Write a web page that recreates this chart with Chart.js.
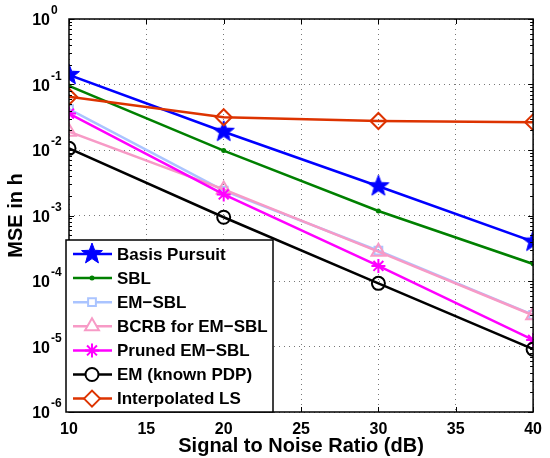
<!DOCTYPE html>
<html>
<head>
<meta charset="utf-8">
<script src="https://cdn.jsdelivr.net/npm/chart.js@4/dist/chart.umd.min.js"></script>
<style>
  html, body { margin: 0; padding: 0; background: #fff; }
  #wrap { width: 550px; height: 458px; }
</style>
</head>
<body>
<div id="wrap"><canvas id="mseChart" width="550" height="458"></canvas></div>
<script>
// SNR points (dB)
var snr = [10, 20, 30, 40];

// MSE values
var basisPursuit = [0.14, 0.019, 0.0028, 0.0004];
var sbl = [0.095, 0.0098, 0.00117, 0.000182];
var emSbl = [0.042, 0.0024, 0.00029, 0.0000305];
var bcrb = [0.019, 0.0025, 0.00028, 0.00003];
var prunedEmSbl = [0.036, 0.0021, 0.00017, 0.0000126];
var emKnownPdp = [0.0106, 0.00094, 0.000092, 0.0000091];
var interpLs = [0.065, 0.0316, 0.0277, 0.0265];

var xTicks = [10, 15, 20, 25, 30, 35, 40];
var yExponents = [-6, -5, -4, -3, -2, -1, 0];

// filled five point star, matlab 'p' marker
function makePentagram(r, color) {
  var c = document.createElement("canvas");
  c.width = c.height = r * 2 + 2;
  var g = c.getContext("2d");
  g.beginPath();
  for (var i = 0; i < 10; i++) {
    var rr = i % 2 == 0 ? r : r * 0.42;
    var a = -Math.PI / 2 + (i * Math.PI) / 5;
    g.lineTo(r + 1 + rr * Math.cos(a), r + 1 + rr * Math.sin(a));
  }
  g.closePath();
  g.fillStyle = color;
  g.fill();
  g.strokeStyle = color;
  g.lineWidth = 1;
  g.stroke();
  return c;
}
var starImg = makePentagram(11, "#0000ff");

function pts(arr) {
  return arr.map(function (v, i) {
    return { x: snr[i], y: v };
  });
}

var series = [
  { label: "Basis Pursuit", data: basisPursuit, color: "#0000ff", style: starImg, r: 10 },
  { label: "SBL", data: sbl, color: "#008000", style: "circle", r: 1.5, fill: true },
  { label: "EM\u2212SBL", data: emSbl, color: "#aac4ff", style: "rect", r: 5.5 },
  { label: "BCRB for EM\u2212SBL", data: bcrb, color: "#f79ac6", style: "triangle", r: 8 },
  { label: "Pruned EM\u2212SBL", data: prunedEmSbl, color: "#ff00ff", style: "star", r: 7 },
  { label: "EM (known PDP)", data: emKnownPdp, color: "#000000", style: "circle", r: 6.5 },
  { label: "Interpolated LS", data: interpLs, color: "#dd3300", style: "rectRot", r: 8 },
];

var datasets = series.map(function (s, i) {
  return {
    label: s.label,
    data: pts(s.data),
    borderColor: s.color,
    backgroundColor: s.fill ? s.color : "rgba(0,0,0,0)",
    borderWidth: 2.5,
    pointStyle: s.style,
    pointRadius: s.r,
    pointBorderWidth: 2,
    pointBorderColor: s.color,
    pointBackgroundColor: s.fill ? s.color : "rgba(0,0,0,0)",
    lineTension: 0,
    fill: false,
    order: series.length - i,
  };
});

var boldFont = "'Liberation Sans', Arial, sans-serif";

// axis ticks drawn inward, box, y labels with exponents, legend
var matlabLook = {
  id: "matlabLook",
  afterDraw: function (chart) {
    var ctx = chart.ctx;
    var area = chart.chartArea;
    var xs = chart.scales.x;
    var ys = chart.scales.y;
    ctx.save();
    ctx.strokeStyle = "#000";
    ctx.lineWidth = 1;

    // major x ticks
    xTicks.forEach(function (t) {
      var px = Math.round(xs.getPixelForValue(t)) + 0.5;
      ctx.beginPath();
      ctx.moveTo(px, area.bottom);
      ctx.lineTo(px, area.bottom - 5);
      ctx.moveTo(px, area.top);
      ctx.lineTo(px, area.top + 5);
      ctx.stroke();
    });

    // y ticks, major and minor
    yExponents.forEach(function (e) {
      for (var m = 1; m <= 9; m++) {
        var v = m * Math.pow(10, e);
        if (v > 1) break;
        var py = Math.round(ys.getPixelForValue(v)) + 0.5;
        var len = m == 1 ? 5 : 3;
        ctx.beginPath();
        ctx.moveTo(area.left, py);
        ctx.lineTo(area.left + len, py);
        ctx.moveTo(area.right, py);
        ctx.lineTo(area.right - len, py);
        ctx.stroke();
      }
    });

    // box
    ctx.lineWidth = 1.5;
    ctx.strokeRect(area.left, area.top, area.right - area.left, area.bottom - area.top);

    // y tick labels 10^n
    ctx.fillStyle = "#000";
    yExponents.forEach(function (e) {
      var py = ys.getPixelForValue(Math.pow(10, e));
      ctx.font = "bold 16px " + boldFont;
      ctx.textAlign = "right";
      ctx.textBaseline = "middle";
      ctx.fillText("10", 50, py + 2);
      ctx.font = "bold 12px " + boldFont;
      ctx.textAlign = "left";
      ctx.fillText(e == 0 ? "0" : "-" + Math.abs(e), 51, py - 8);
    });

    // legend
    var lx = 66, ly = 240, lw = 207, lh = 172;
    ctx.fillStyle = "#fff";
    ctx.fillRect(lx, ly, lw, lh);
    ctx.lineWidth = 1.5;
    ctx.strokeStyle = "#000";
    ctx.strokeRect(lx, ly, lw, lh);
    series.forEach(function (s, i) {
      var cy = 254 + i * 24.1;
      ctx.strokeStyle = s.color;
      ctx.lineWidth = 2.5;
      ctx.beginPath();
      ctx.moveTo(73, cy);
      ctx.lineTo(112, cy);
      ctx.stroke();
      ctx.lineWidth = 2;
      ctx.fillStyle = s.fill ? s.color : "#ffffff";
      Chart.helpers.drawPoint(
        ctx,
        { pointStyle: s.style, radius: s.r, borderWidth: 2, rotation: 0 },
        92,
        cy
      );
      ctx.fillStyle = "#000";
      ctx.font = "bold 17px " + boldFont;
      ctx.textAlign = "left";
      ctx.textBaseline = "middle";
      ctx.fillText(s.label, 117, cy + 1);
    });
    ctx.restore();
  },
};

var ctx = document.getElementById("mseChart").getContext("2d");
var mseChart = new Chart(ctx, {
  type: "line",
  data: { datasets: datasets },
  plugins: [matlabLook],
  options: {
    responsive: false,
    animation: false,
    layout: { padding: { top: 19, right: 11, left: 0, bottom: 0 } },
    plugins: {
      legend: { display: false },
      tooltip: { enabled: false },
    },
    scales: {
      x: {
        type: "linear",
        min: 10,
        max: 40,
        afterBuildTicks: function (scale) {
          scale.ticks = xTicks.map(function (v) {
            return { value: v };
          });
        },
        afterFit: function (scale) {
          scale.height = 46;
        },
        grid: {
          color: "#777",
          lineWidth: 1,
          drawTicks: false,
        },
        border: { display: false, dash: [1, 4] },
        ticks: {
          padding: 8,
          color: "#000",
          font: { family: boldFont, size: 16, weight: "bold" },
        },
        title: {
          display: true,
          text: "Signal to Noise Ratio (dB)",
          color: "#000",
          padding: { top: 0, bottom: 0 },
          font: { family: boldFont, size: 20, weight: "bold" },
        },
      },
      y: {
        type: "logarithmic",
        min: 1e-6,
        max: 1,
        afterBuildTicks: function (scale) {
          scale.ticks = yExponents.map(function (e) {
            return { value: Math.pow(10, e) };
          });
        },
        afterFit: function (scale) {
          scale.width = 69;
        },
        grid: {
          color: "#777",
          lineWidth: 1,
          drawTicks: false,
        },
        border: { display: false, dash: [1, 4] },
        ticks: { display: false },
        title: {
          display: true,
          text: "MSE in h",
          color: "#000",
          padding: { top: 4, bottom: 0 },
          font: { family: boldFont, size: 20, weight: "bold" },
        },
      },
    },
  },
});
</script>
</body>
</html>
